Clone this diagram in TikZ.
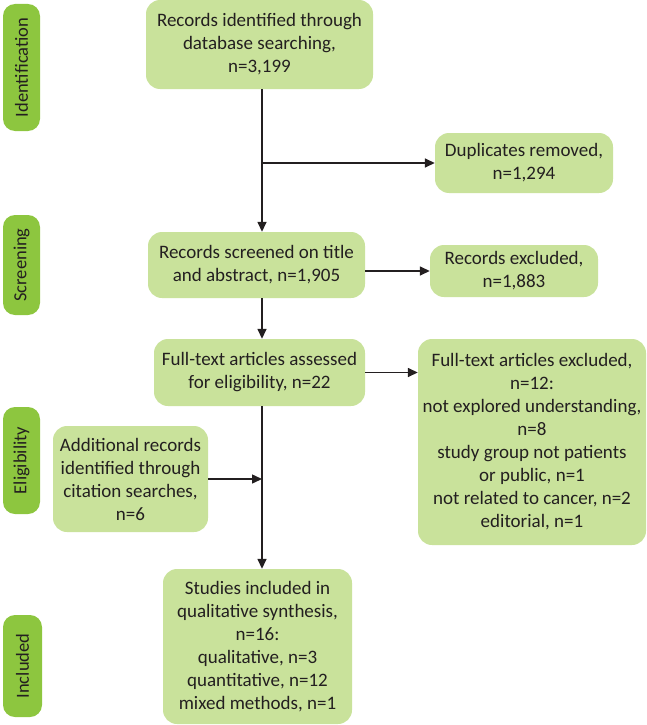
\documentclass[tikz,border=0pt]{standalone}
\usepackage{fontspec}
\setmainfont{Carlito}
\usetikzlibrary{arrows.meta,calc}
\definecolor{boxgreen}{HTML}{C9E29B}
\definecolor{tabgreen}{HTML}{8DC63F}
\definecolor{ink}{HTML}{231F20}
\begin{document}
\begin{tikzpicture}[x=1pt,y=1pt,
  box/.style={fill=boxgreen, rounded corners=14pt, align=center, inner sep=0pt, text=ink, font=\fontsize{19}{23}\selectfont},
  tab/.style={fill=tabgreen, rounded corners=12pt, inner sep=0pt, text=ink, font=\fontsize{18.5}{20}\selectfont, rotate=90},
  arr/.style={draw=ink, line width=1.5pt, -{Triangle[length=10pt,width=9pt]}}]
\useasboundingbox (0,0) rectangle (646,-725);
% phase tabs
\node[tab, minimum width=127, minimum height=37] (idt) at (21.5,-67.5) {Identification};
\node[tab, minimum width=100, minimum height=37] (scrt) at (21.5,-265) {Screening};
\node[tab, minimum width=107, minimum height=37] (elit) at (21.5,-460.5) {Eligibility};
\node[tab, minimum width=102, minimum height=39] (inct) at (22.5,-666) {Included};
% boxes
\node[box, minimum width=227, minimum height=89] (id) at (259.5,-44.5) {Records identified through\\database searching,\\n=3,199};
\node[box, minimum width=178, minimum height=60] (dup) at (524,-163) {Duplicates removed,\\n=1,294};
\node[box, minimum width=217, minimum height=66] (scr) at (256.5,-265) {Records screened on title\\and abstract, n=1,905};
\node[box, minimum width=168, minimum height=52] (exc) at (514,-271) {Records excluded,\\n=1,883};
\node[box, minimum width=211, minimum height=67] (ft) at (259.5,-372.5) {Full-text articles assessed\\for eligibility, n=22};
\node[box, minimum width=228, minimum height=206] (fte) at (532,-442) {Full-text articles excluded,\\n=12:\\not explored understanding,\\n=8\\study group not patients\\or public, n=1\\not related to cancer, n=2\\editorial, n=1};
\node[box, minimum width=155, minimum height=106] (add) at (130.5,-479) {Additional records\\identified through\\citation searches,\\n=6};
\node[box, minimum width=189, minimum height=155] (stu) at (257.5,-646.5) {Studies included in\\qualitative synthesis,\\n=16:\\qualitative, n=3\\quantitative, n=12\\mixed methods, n=1};
% connectors
\coordinate (sp) at (262,0);
\draw[arr] (id.south -| sp) -- (scr.north -| sp);
\draw[arr] (sp |- dup.west) -- (dup.west);
\draw[arr] (scr.east |- exc.west) -- (exc.west);
\draw[arr] (scr.south -| sp) -- (ft.north -| sp);
\draw[arr] (ft.east) -- (ft.east -| fte.west);
\draw[arr] (ft.south -| sp) -- (stu.north -| sp);
\draw[arr] (add.east) -- (add.east -| sp);
\end{tikzpicture}
\end{document}
